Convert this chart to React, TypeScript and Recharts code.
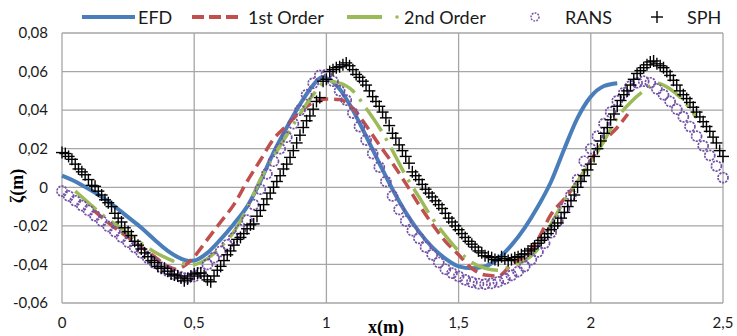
import React from 'react';
import { ComposedChart, Line, Scatter, XAxis, YAxis, CartesianGrid, Legend } from 'recharts';

// x (m), free surface elevation (m)
const efd: [number, number][] = [
  [0, 0.006], [0.05, 0.003], [0.1, -0.0008], [0.15, -0.005], [0.2, -0.01], [0.25, -0.0155],
  [0.3, -0.021], [0.35, -0.0272], [0.4, -0.033], [0.45, -0.037], [0.48, -0.0382], [0.5, -0.038],
  [0.55, -0.034], [0.6, -0.027], [0.65, -0.019], [0.7, -0.01], [0.75, 0.003], [0.8, 0.018],
  [0.85, 0.031], [0.9, 0.043], [0.95, 0.053], [0.98, 0.0568], [1.0, 0.0565], [1.05, 0.051],
  [1.1, 0.04], [1.15, 0.0265], [1.2, 0.0125], [1.25, -0.001], [1.3, -0.013], [1.35, -0.023],
  [1.4, -0.031], [1.45, -0.037], [1.5, -0.041], [1.55, -0.042], [1.6, -0.041], [1.65, -0.037],
  [1.7, -0.03], [1.75, -0.021], [1.8, -0.01], [1.85, 0.003], [1.9, 0.02], [1.95, 0.036],
  [2.0, 0.047], [2.05, 0.0525], [2.1, 0.054],
];

const firstOrder: [number, number][] = [
  [0.12, -0.012], [0.15, -0.0155], [0.2, -0.021], [0.25, -0.026], [0.3, -0.031], [0.35, -0.036],
  [0.4, -0.041], [0.43, -0.0425], [0.47, -0.04], [0.5, -0.036], [0.55, -0.027], [0.6, -0.018],
  [0.65, -0.009], [0.7, 0.003], [0.75, 0.014], [0.8, 0.025], [0.85, 0.032], [0.9, 0.039],
  [0.95, 0.044], [1.0, 0.0458], [1.05, 0.0455], [1.1, 0.041], [1.15, 0.032], [1.2, 0.022],
  [1.25, 0.0125], [1.3, 0.002], [1.35, -0.009], [1.4, -0.019], [1.45, -0.028], [1.5, -0.035],
  [1.55, -0.042], [1.6, -0.0455], [1.65, -0.046], [1.7, -0.04], [1.75, -0.036], [1.8, -0.027],
  [1.85, -0.014], [1.9, -0.006], [1.95, 0.003], [2.0, 0.014], [2.05, 0.024], [2.1, 0.031],
  [2.14, 0.038],
];

const secondOrder: [number, number][] = [
  [0.05, -0.002], [0.1, -0.008], [0.15, -0.014], [0.2, -0.019], [0.25, -0.024], [0.3, -0.029],
  [0.35, -0.0335], [0.4, -0.037], [0.45, -0.0395], [0.5, -0.04], [0.55, -0.037], [0.6, -0.031],
  [0.65, -0.023], [0.7, -0.011], [0.75, 0.004], [0.8, 0.016], [0.85, 0.027], [0.9, 0.038],
  [0.95, 0.048], [1.0, 0.055], [1.05, 0.054], [1.1, 0.05], [1.15, 0.041], [1.2, 0.031],
  [1.25, 0.019], [1.3, 0.006], [1.35, -0.005], [1.4, -0.016], [1.45, -0.025], [1.5, -0.033],
  [1.55, -0.039], [1.6, -0.042], [1.65, -0.043], [1.7, -0.041], [1.75, -0.038], [1.8, -0.032],
  [1.85, -0.019], [1.9, -0.007], [1.95, 0.003], [2.0, 0.013], [2.05, 0.024], [2.1, 0.036],
  [2.15, 0.044], [2.2, 0.05], [2.25, 0.054], [2.3, 0.051], [2.35, 0.045], [2.4, 0.036],
];

const rans: [number, number][] = [
  [0, -0.002], [0.025, -0.0045], [0.05, -0.007], [0.075, -0.0095], [0.1, -0.012], [0.125, -0.0148],
  [0.15, -0.0175], [0.175, -0.0203], [0.2, -0.023], [0.225, -0.0258], [0.25, -0.0285], [0.275, -0.0312],
  [0.3, -0.034], [0.325, -0.0368], [0.35, -0.0393], [0.375, -0.0415], [0.4, -0.0435], [0.425, -0.0452],
  [0.45, -0.0465], [0.475, -0.047], [0.5, -0.0462], [0.525, -0.0442], [0.55, -0.04], [0.575, -0.0365],
  [0.6, -0.0332], [0.625, -0.0298], [0.65, -0.0262], [0.675, -0.022], [0.7, -0.017], [0.725, -0.009],
  [0.75, -0.001], [0.775, 0.007], [0.8, 0.0135], [0.825, 0.02], [0.85, 0.026], [0.875, 0.033],
  [0.9, 0.04], [0.925, 0.048], [0.95, 0.054], [0.975, 0.058], [1.0, 0.0585], [1.025, 0.055],
  [1.05, 0.05], [1.075, 0.0452], [1.1, 0.0385], [1.125, 0.0315], [1.15, 0.0245], [1.175, 0.0175],
  [1.2, 0.0105], [1.225, 0.003], [1.25, -0.0045], [1.275, -0.0115], [1.3, -0.0175], [1.325, -0.0225],
  [1.35, -0.0265], [1.375, -0.031], [1.4, -0.035], [1.425, -0.039], [1.45, -0.0425], [1.475, -0.0445],
  [1.5, -0.0462], [1.525, -0.048], [1.55, -0.0492], [1.575, -0.05], [1.6, -0.0502], [1.625, -0.0498],
  [1.65, -0.049], [1.675, -0.0475], [1.7, -0.0457], [1.725, -0.0437], [1.75, -0.041], [1.775, -0.0375],
  [1.8, -0.0335], [1.825, -0.029], [1.85, -0.0235], [1.875, -0.0175], [1.9, -0.011], [1.925, -0.004],
  [1.95, 0.004], [1.975, 0.0135], [2.0, 0.02], [2.025, 0.0265], [2.05, 0.033], [2.075, 0.039],
  [2.1, 0.0448], [2.125, 0.049], [2.15, 0.0525], [2.175, 0.0542], [2.2, 0.055], [2.225, 0.0542],
  [2.25, 0.051], [2.275, 0.048], [2.3, 0.0445], [2.325, 0.0405], [2.35, 0.0365], [2.375, 0.0315],
  [2.4, 0.0265], [2.425, 0.0215], [2.45, 0.0165], [2.475, 0.011], [2.5, 0.005],
];

const sph: [number, number][] = [
  [0, 0.018], [0.025, 0.016], [0.05, 0.012], [0.075, 0.008], [0.1, 0.004], [0.125, 0.0005],
  [0.15, -0.004], [0.175, -0.008], [0.2, -0.0135], [0.225, -0.018], [0.25, -0.023], [0.275, -0.028],
  [0.3, -0.032], [0.325, -0.036], [0.35, -0.039], [0.375, -0.042], [0.4, -0.0435], [0.425, -0.0455],
  [0.45, -0.047], [0.475, -0.0475], [0.5, -0.045], [0.525, -0.0445], [0.55, -0.048], [0.575, -0.046],
  [0.6, -0.041], [0.625, -0.035], [0.65, -0.03], [0.675, -0.026], [0.7, -0.0215], [0.725, -0.019],
  [0.75, -0.012], [0.775, -0.006], [0.8, 0], [0.825, 0.006], [0.85, 0.012], [0.875, 0.019],
  [0.9, 0.027], [0.925, 0.0345], [0.95, 0.0405], [0.975, 0.0465], [1.0, 0.056], [1.025, 0.061],
  [1.05, 0.0625], [1.075, 0.0645], [1.1, 0.061], [1.125, 0.057], [1.15, 0.053], [1.175, 0.047],
  [1.2, 0.042], [1.225, 0.036], [1.25, 0.028], [1.275, 0.022], [1.3, 0.016], [1.325, 0.008],
  [1.35, 0.004], [1.375, -0.001], [1.4, -0.005], [1.425, -0.009], [1.45, -0.0135], [1.475, -0.018],
  [1.5, -0.022], [1.525, -0.026], [1.55, -0.0295], [1.575, -0.033], [1.6, -0.0355], [1.625, -0.0365],
  [1.65, -0.038], [1.675, -0.037], [1.7, -0.0375], [1.725, -0.036], [1.75, -0.0345], [1.775, -0.032],
  [1.8, -0.029], [1.825, -0.026], [1.85, -0.022], [1.875, -0.0185], [1.9, -0.013], [1.925, -0.007],
  [1.95, 0], [1.975, 0.006], [2.0, 0.012], [2.025, 0.02], [2.05, 0.028], [2.075, 0.035],
  [2.1, 0.042], [2.125, 0.048], [2.15, 0.053], [2.175, 0.059], [2.2, 0.062], [2.225, 0.065],
  [2.25, 0.064], [2.275, 0.062], [2.3, 0.058], [2.325, 0.053], [2.35, 0.048], [2.375, 0.044],
  [2.4, 0.039], [2.425, 0.034], [2.45, 0.029], [2.475, 0.023], [2.5, 0.016],
];

// second, staggered batch of SPH probes (the reference cloud is denser and noisier)
const sphExtra: [number, number][] = [
  [0.0125, 0.0175], [0.0375, 0.0145], [0.0625, 0.0095], [0.0875, 0.0065], [0.1125, 0.001], [0.1375, -0.002],
  [0.1625, -0.0065], [0.1875, -0.01], [0.2125, -0.016], [0.2375, -0.021], [0.2625, -0.025], [0.2875, -0.03],
  [0.3125, -0.034], [0.3375, -0.038], [0.3625, -0.041], [0.3875, -0.042], [0.4125, -0.045], [0.4375, -0.046],
  [0.4625, -0.0485], [0.4875, -0.046], [0.5125, -0.0445], [0.5375, -0.046], [0.5625, -0.049], [0.5875, -0.043],
  [0.6125, -0.038], [0.6375, -0.033], [0.6625, -0.027], [0.6875, -0.024], [0.7125, -0.0195], [0.7375, -0.015],
  [0.7625, -0.009], [0.7875, -0.003], [0.8125, 0.003], [0.8375, 0.0095], [0.8625, 0.0155], [0.8875, 0.023],
  [0.9125, 0.031], [0.9375, 0.037], [0.9625, 0.0445], [0.9875, 0.055], [1.0125, 0.06], [1.0375, 0.062],
  [1.0625, 0.0635], [1.0875, 0.063], [1.1125, 0.0585], [1.1375, 0.055], [1.1625, 0.05], [1.1875, 0.0445],
  [1.2125, 0.039], [1.2375, 0.032], [1.2625, 0.0255], [1.2875, 0.019], [1.3125, 0.0125], [1.3375, 0.006],
  [1.3625, 0.0015], [1.3875, -0.003], [1.4125, -0.007], [1.4375, -0.011], [1.4625, -0.016], [1.4875, -0.02],
  [1.5125, -0.024], [1.5375, -0.028], [1.5625, -0.031], [1.5875, -0.034], [1.6125, -0.036], [1.6375, -0.0375],
  [1.6625, -0.036], [1.6875, -0.038], [1.7125, -0.0365], [1.7375, -0.035], [1.7625, -0.033], [1.7875, -0.0305],
  [1.8125, -0.0275], [1.8375, -0.024], [1.8625, -0.02], [1.8875, -0.016], [1.9125, -0.01], [1.9375, -0.004],
  [1.9625, 0.003], [1.9875, 0.009], [2.0125, 0.016], [2.0375, 0.024], [2.0625, 0.031], [2.0875, 0.038],
  [2.1125, 0.045], [2.1375, 0.05], [2.1625, 0.056], [2.1875, 0.0605], [2.2125, 0.0635], [2.2375, 0.0655],
  [2.2625, 0.063], [2.2875, 0.06], [2.3125, 0.0555], [2.3375, 0.05], [2.3625, 0.046], [2.3875, 0.0415],
  [2.4125, 0.0365], [2.4375, 0.0315], [2.4625, 0.026], [2.4875, 0.019],
];

const xTicks = [0, 0.5, 1, 1.5, 2, 2.5];
const yTicks = [-0.06, -0.04, -0.02, 0, 0.02, 0.04, 0.06, 0.08];

const BLUE = '#4a7ebb';
const RED = '#c0504d';
const GREEN = '#9bbb59';
const PURPLE = '#7352a6';
const FONT = 'Lato, "Open Sans", sans-serif';

const toRows = (pts: [number, number][]) => pts.map(([x, y]) => ({ x, y }));

const fmt = (v: number) => (v === 0 ? '0' : String(v).replace('.', ','));

const RansDot = (props: any) => {
  const { cx, cy } = props;
  if (cx == null || cy == null) return null;
  return <circle cx={cx} cy={cy} r={5} fill="none" stroke={PURPLE} strokeWidth={1.7} strokeDasharray="2.2 1" />;
};

const SphMark = (props: any) => {
  const { cx, cy } = props;
  if (cx == null || cy == null) return null;
  return (
    <g stroke="#000" strokeWidth={1.4}>
      <line x1={cx - 6} x2={cx + 6} y1={cy} y2={cy} />
      <line x1={cx} x2={cx} y1={cy - 6} y2={cy + 6} />
    </g>
  );
};

const LegendBox = () => (
  <svg width={737} height={33} style={{ display: 'block' }}>
    <g fontFamily={FONT} fontSize={18} fill="#1a1a1a">
      <line x1={82} x2={135} y1={17} y2={17} stroke={BLUE} strokeWidth={4} />
      <text x={138} y={17} dominantBaseline="central">EFD</text>
      <line x1={192} x2={238} y1={17} y2={17} stroke={RED} strokeWidth={4} strokeDasharray="12 5" />
      <text x={248} y={17} dominantBaseline="central">1st Order</text>
      <line x1={347} x2={382} y1={17} y2={17} stroke={GREEN} strokeWidth={4} />
      <circle cx={397} cy={17} r={1.8} fill={GREEN} />
      <text x={404} y={17} dominantBaseline="central">2nd Order</text>
      <circle cx={535} cy={17} r={4} fill="none" stroke={PURPLE} strokeWidth={1.5} strokeDasharray="1.8 1.2" />
      <text x={565} y={17} dominantBaseline="central">RANS</text>
      <line x1={651} x2={663} y1={17} y2={17} stroke="#000" strokeWidth={1.4} />
      <line x1={657} x2={657} y1={11} y2={23} stroke="#000" strokeWidth={1.4} />
      <text x={687} y={17} dominantBaseline="central">SPH</text>
    </g>
  </svg>
);

const YTitle = () => (
  <text
    x={17}
    y={186}
    transform="rotate(-90, 17, 186)"
    textAnchor="middle"
    dominantBaseline="central"
    fontFamily='"Liberation Serif", serif'
    fontWeight="bold"
    fontSize={18}
    fill="#000"
  >
    ζ(m)
  </text>
);

const XTitle = () => (
  <text
    x={386}
    y={327}
    textAnchor="middle"
    dominantBaseline="central"
    fontFamily='"Liberation Serif", serif'
    fontWeight="bold"
    fontSize={18}
    fill="#000"
  >
    x(m)
  </text>
);

export default function App() {
  const tickStyle = { fontFamily: FONT, fontSize: 15, fill: '#1a1a1a' };
  const sphRows = toRows([...sph, ...sphExtra].sort((a, b) => a[0] - b[0]));
  return (
    <div style={{ position: 'absolute', left: 0, top: 0, width: 737, height: 336, background: '#fff' }}>
      <ComposedChart width={737} height={336} margin={{ top: 0, right: 14, bottom: 0, left: 22 }}>
        <CartesianGrid stroke="#a6a6a6" strokeWidth={1.3} />
        <XAxis
          type="number"
          dataKey="x"
          domain={[0, 2.5]}
          ticks={xTicks}
          tickFormatter={fmt}
          axisLine={false}
          tickLine={false}
          tickSize={0}
          tickMargin={14}
          height={33}
          tick={tickStyle}
          label={<XTitle />}
        />
        <YAxis
          type="number"
          domain={[-0.06, 0.08]}
          ticks={yTicks}
          tickFormatter={fmt}
          axisLine={false}
          tickLine={false}
          tickSize={0}
          tickMargin={14}
          width={40}
          tick={tickStyle}
          label={<YTitle />}
        />
        <Legend
          verticalAlign="top"
          content={() => <LegendBox />}
          wrapperStyle={{ left: 0, top: 0, width: 737, height: 33 }}
        />
        <Line data={toRows(efd)} dataKey="y" type="monotone" stroke={BLUE} strokeWidth={4} dot={false} isAnimationActive={false} />
        <Line data={toRows(firstOrder)} dataKey="y" type="monotone" stroke={RED} strokeWidth={3.5} strokeDasharray="12 6" dot={false} isAnimationActive={false} />
        <Line data={toRows(secondOrder)} dataKey="y" type="monotone" stroke={GREEN} strokeWidth={3.5} strokeDasharray="28 8 3 8" dot={false} isAnimationActive={false} />
        <Scatter data={toRows(rans)} dataKey="y" shape={<RansDot />} isAnimationActive={false} />
        <Scatter data={sphRows} dataKey="y" shape={<SphMark />} isAnimationActive={false} />
      </ComposedChart>
    </div>
  );
}
